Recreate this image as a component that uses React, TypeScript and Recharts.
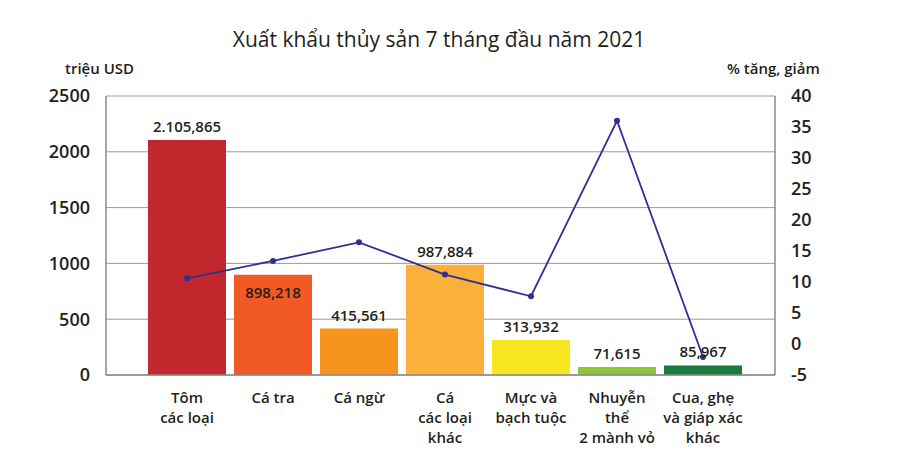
import { ComposedChart, Bar, Line, XAxis, YAxis, CartesianGrid, LabelList, Cell } from "recharts";

// Xuất khẩu thủy sản 7 tháng đầu năm 2021
const categories = [
  "Tôm\ncác loại",
  "Cá tra",
  "Cá ngừ",
  "Cá\ncác loại\nkhác",
  "Mực và\nbạch tuộc",
  "Nhuyễn\nthể\n2 mành vỏ",
  "Cua, ghẹ\nvà giáp xác\nkhác",
];
const exportValues = [2105.865, 898.218, 415.561, 987.884, 313.932, 71.615, 85.967];
const valueLabels = ["2.105,865", "898,218", "415,561", "987,884", "313,932", "71,615", "85,967"];
const growthPct = [10.6, 13.4, 16.4, 11.2, 7.7, 36.0, -2.1];
const leftTicks = [0, 500, 1000, 1500, 2000, 2500];
const rightTicks = [-5, 0, 5, 10, 15, 20, 25, 30, 35, 40];

const barColors = ["#c1272d", "#f15a24", "#f7941d", "#fbb03b", "#f6e71e", "#8cc63f", "#197b3b"];
const lineColor = "#2e3192";
const textColor = "#231f20";
const numFont = "'Open Sans', sans-serif";
const textFont = "'Open Sans', sans-serif";

const data = categories.map((name, i) => ({
  name,
  value: exportValues[i],
  label: valueLabels[i],
  pct: growthPct[i],
}));

function CategoryTick(props: any) {
  const { x, y, payload } = props;
  const lines = String(payload.value).split("\n");
  return (
    <text x={x} y={y + 20} textAnchor="middle" fill={textColor} fontFamily={textFont} fontSize={15} fontWeight={600}>
      {lines.map((ln, i) => (
        <tspan key={i} x={x} dy={i === 0 ? 0 : 20}>
          {ln}
        </tspan>
      ))}
    </text>
  );
}

function ValueLabel(props: any) {
  const { x, y, width, index, value } = props;
  const inside = index === 1;
  return (
    <text
      x={x + width / 2}
      y={inside ? y + 23 : y - 8}
      textAnchor="middle"
      fill={textColor}
      fontFamily={numFont}
      fontSize={15}
      fontWeight={600}
    >
      {value}
    </text>
  );
}

export default function App() {
  return (
    <div style={{ position: "absolute", left: 0, top: 0, width: 913, height: 461, background: "#fff" }}>
      <div
        style={{
          position: "absolute",
          left: 0,
          width: 878,
          top: 25,
          textAlign: "center",
          fontFamily: textFont,
          fontSize: 21,
          color: textColor,
        }}
      >
        Xuất khẩu thủy sản 7 tháng đầu năm 2021
      </div>
      <div style={{ position: "absolute", left: 65, top: 58, fontFamily: textFont, fontSize: 15, fontWeight: 600, color: textColor }}>
        triệu USD
      </div>
      <div style={{ position: "absolute", left: 727, top: 58, fontFamily: textFont, fontSize: 15, fontWeight: 600, color: textColor }}>
        % tăng, giảm
      </div>
      <ComposedChart
        width={913}
        height={461}
        data={data}
        margin={{ top: 96, right: 0, bottom: 0, left: 0 }}
        barCategoryGap={8}
      >
        <CartesianGrid yAxisId="left" vertical={false} stroke="#9a9a9a" strokeWidth={1} />
        <XAxis
          dataKey="name"
          interval={0}
          padding={{ left: 38, right: 29 }}
          tick={<CategoryTick />}
          tickLine={false}
          axisLine={{ stroke: "#8a8a8a", strokeWidth: 1.5 }}
          height={86}
        />
        <YAxis
          yAxisId="left"
          width={106}
          domain={[0, 2500]}
          ticks={leftTicks}
          interval={0}
          tickLine={false}
          tickMargin={10}
          axisLine={{ stroke: "#8a8a8a", strokeWidth: 1.5 }}
          tick={{ fill: textColor, fontFamily: numFont, fontSize: 18, fontWeight: 600 }}
        />
        <YAxis
          yAxisId="right"
          orientation="right"
          width={138}
          domain={[-5, 40]}
          ticks={rightTicks}
          interval={0}
          tickLine={false}
          tickMargin={10}
          axisLine={{ stroke: "#8a8a8a", strokeWidth: 1.5 }}
          tick={{ fill: textColor, fontFamily: numFont, fontSize: 18, fontWeight: 600 }}
        />
        <Bar yAxisId="left" dataKey="value" barSize={78} isAnimationActive={false}>
          {data.map((_, i) => (
            <Cell key={i} fill={barColors[i]} />
          ))}
          <LabelList dataKey="label" content={<ValueLabel />} />
        </Bar>
        <Line
          yAxisId="right"
          dataKey="pct"
          type="linear"
          stroke={lineColor}
          strokeWidth={1.8}
          dot={{ r: 3, fill: lineColor, stroke: lineColor, strokeWidth: 0 }}
          isAnimationActive={false}
        />
      </ComposedChart>
    </div>
  );
}
